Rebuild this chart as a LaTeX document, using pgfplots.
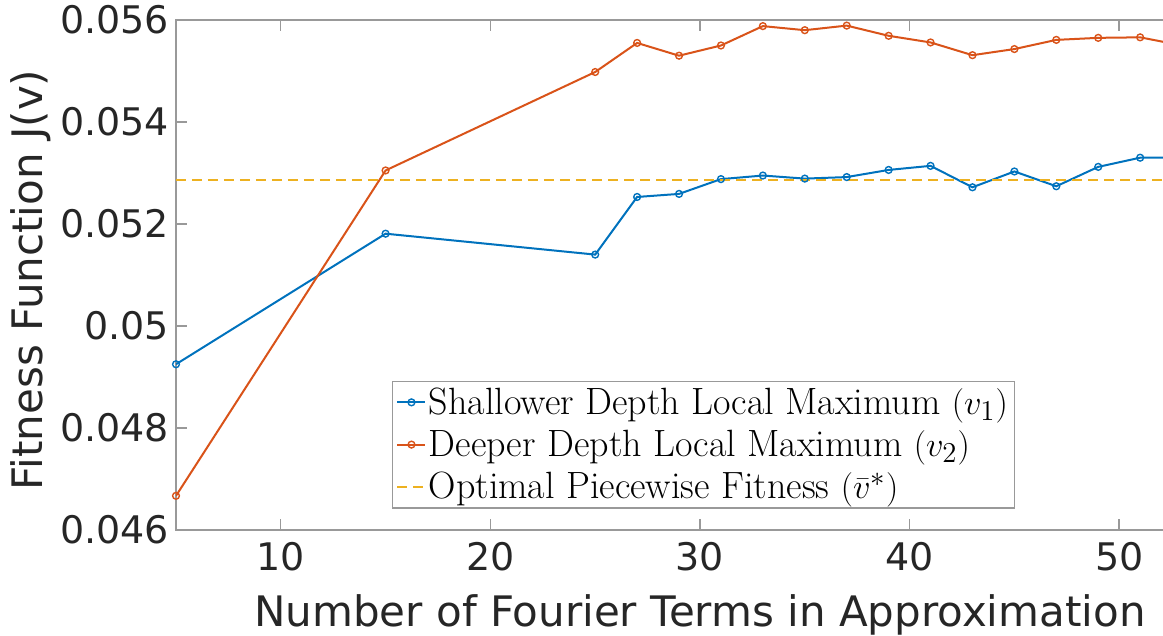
\documentclass[border=0pt]{standalone}
\usepackage{pgfplots}
\pgfplotsset{compat=1.18}
\usepackage{fontspec}
\setmainfont{DejaVu Sans}
\newfontfamily\lmr{Latin Modern Roman}
\definecolor{mblue}{rgb}{0,0.447,0.741}
\definecolor{morange}{rgb}{0.85,0.325,0.098}
\definecolor{myellow}{rgb}{0.929,0.694,0.125}
\begin{document}
\begin{tikzpicture}
\begin{axis}[
  at={(0,0)}, anchor=south west,
  scale only axis, width=524pt, height=255pt,
  xmin=5, xmax=55, ymin=0.046, ymax=0.056,
  xtick={10,20,30,40,50},
  ytick={0.046,0.048,0.05,0.052,0.054,0.056},
  yticklabels={0.046,0.048,0.05,0.052,0.054,0.056},
  scaled y ticks=false,
  /pgf/number format/assume math mode=true,
  tick label style={font=\fontsize{19}{19}\selectfont, text=black!85},
  label style={font=\fontsize{21}{21}\selectfont, text=black!85},
  axis line style={black!40, line width=0.7pt},
  major tick style={black!40, line width=0.7pt},
  major tick length=5.5pt,
  xticklabel style={yshift=-2.7pt},
  xlabel={Number of Fourier Terms in Approximation},
  ylabel={Fitness Function J(v)},
  xlabel style={at={(axis description cs:0.5,0)}, anchor=base, yshift=-48.5pt},
  ylabel style={at={(axis description cs:-0.139,0.49)}, anchor=center},
  legend style={at={(axis description cs:0.206,0.293)}, anchor=north west,
    draw=black!40, line width=0.6pt, fill=white,
    font=\lmr\fontsize{19}{21}\selectfont, cells={anchor=west},
    inner sep=2pt, row sep=4pt,
    nodes={inner sep=1.2pt}},
  legend image code/.code={\draw[mark repeat=2,mark phase=2] plot coordinates {(0pt,0pt)(7pt,0pt)(14pt,0pt)};},
]
\addplot[mblue, line width=1pt, mark=o, mark size=1.7pt, mark options={line width=0.7pt}] coordinates {
(5,0.04925)(15,0.05181)(25,0.05140)(27,0.05253)(29,0.05259)(31,0.05288)(33,0.05295)(35,0.05289)(37,0.05292)(39,0.05306)(41,0.05314)(43,0.05272)(45,0.05303)(47,0.05274)(49,0.05312)(51,0.05330)(53,0.05330)
};
\addlegendentry{Shallower Depth Local Maximum $(v_1)$}
\addplot[morange, line width=1pt, mark=o, mark size=1.7pt, mark options={line width=0.7pt}] coordinates {
(5,0.04667)(15,0.05305)(25,0.05498)(27,0.05555)(29,0.05530)(31,0.05550)(33,0.05588)(35,0.05580)(37,0.05589)(39,0.05569)(41,0.05556)(43,0.05531)(45,0.05543)(47,0.05561)(49,0.05565)(51,0.05566)(53,0.05550)
};
\addlegendentry{Deeper Depth Local Maximum $(v_2)$}
\addplot[myellow, line width=1pt, dash pattern=on 5pt off 3pt] coordinates {(5,0.05286)(55,0.05286)};
\addlegendentry{Optimal Piecewise Fitness $(\bar{v}^{*})$}
\end{axis}
\pgfresetboundingbox
\path (-88pt,-53pt) rectangle (493.5pt,265pt);
\end{tikzpicture}
\end{document}
